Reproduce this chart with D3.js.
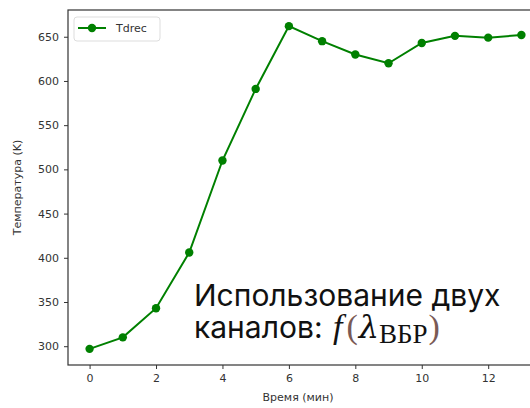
<!DOCTYPE html>
<html>
<head>
<meta charset="utf-8">
<script src="https://cdn.jsdelivr.net/npm/d3@7"></script>
<style>
  body { margin: 0; background: #fff; }
  svg { display: block; }
  .tick text { font-family: "DejaVu Sans", sans-serif; font-size: 11px; fill: #333; }
  .tick line { stroke: #333; }
  .domain { stroke: none; }
</style>
</head>
<body>
<svg id="chart" width="530" height="408"></svg>
<script>
// time (min) and temperature (K)
const times = [0, 1, 2, 3, 4, 5, 6, 7, 8, 9, 10, 11, 12, 13];
const tdrec = [297, 310, 343, 406, 510, 591, 662, 645, 630, 620, 643, 651, 649, 652];
const xTicks = [0, 2, 4, 6, 8, 10, 12];
const yTicks = [300, 350, 400, 450, 500, 550, 600, 650];
const seriesName = "Tdrec";

const svg = d3.select("#chart");
const plot = { left: 68, top: 10, right: 543, bottom: 365 };
const green = "#008000";

// matplotlib style 5% margins around the data
const xPad = (d3.max(times) - d3.min(times)) * 0.05;
const yPad = (d3.max(tdrec) - d3.min(tdrec)) * 0.05;
const x = d3.scaleLinear()
    .domain([d3.min(times) - xPad, d3.max(times) + xPad])
    .range([plot.left, plot.right]);
const y = d3.scaleLinear()
    .domain([d3.min(tdrec) - yPad, d3.max(tdrec) + yPad])
    .range([plot.bottom, plot.top]);

// frame
svg.append("rect")
    .attr("x", plot.left).attr("y", plot.top)
    .attr("width", plot.right - plot.left).attr("height", plot.bottom - plot.top)
    .attr("fill", "none").attr("stroke", "#333").attr("stroke-width", 1.2);

// axes
svg.append("g")
    .attr("transform", `translate(0,${plot.bottom})`)
    .call(d3.axisBottom(x).tickValues(xTicks).tickSize(4).tickPadding(5).tickFormat(d3.format("d")));
svg.append("g")
    .attr("transform", `translate(${plot.left},0)`)
    .call(d3.axisLeft(y).tickValues(yTicks).tickSize(4).tickPadding(5).tickFormat(d3.format("d")));

// axis titles
svg.append("text")
    .attr("x", (plot.left + 530) / 2 - 1).attr("y", 401)
    .attr("text-anchor", "middle")
    .style("font-family", "DejaVu Sans, sans-serif").style("font-size", "11px").style("fill", "#333")
    .text("Время (мин)");
svg.append("text")
    .attr("transform", `translate(21,${(plot.top + plot.bottom) / 2}) rotate(-90)`)
    .attr("text-anchor", "middle")
    .style("font-family", "DejaVu Sans, sans-serif").style("font-size", "11px").style("fill", "#333")
    .text("Температура (K)");

// series
const pts = times.map((t, i) => [t, tdrec[i]]);
svg.append("path")
    .datum(pts)
    .attr("fill", "none").attr("stroke", green).attr("stroke-width", 2)
    .attr("d", d3.line().x(d => x(d[0])).y(d => y(d[1])));
svg.append("g").selectAll("circle")
    .data(pts).join("circle")
    .attr("cx", d => x(d[0])).attr("cy", d => y(d[1]))
    .attr("r", 4.2).attr("fill", green);

// legend
const lg = svg.append("g").attr("transform", "translate(74,17)");
lg.append("rect")
    .attr("width", 86).attr("height", 24).attr("rx", 3)
    .attr("fill", "#fff").attr("stroke", "#ddd");
lg.append("line").attr("x1", 4).attr("x2", 32).attr("y1", 11).attr("y2", 11)
    .attr("stroke", green).attr("stroke-width", 2);
lg.append("circle").attr("cx", 18).attr("cy", 11).attr("r", 4.2).attr("fill", green);
lg.append("text").attr("x", 42).attr("y", 15)
    .style("font-family", "DejaVu Sans, sans-serif").style("font-size", "11px").style("fill", "#333")
    .text(seriesName);

// overlay caption
const cap = svg.append("g").style("font-family", "Inter, sans-serif").style("fill", "#111");
cap.append("text").attr("x", 194).attr("y", 306)
    .style("font-size", "30px")
    .text("Использование двух");
const l2 = cap.append("text").attr("x", 194).attr("y", 338).style("font-size", "30px");
const serif = "Liberation Serif, serif";
l2.append("tspan").text("каналов: ");
l2.append("tspan").style("font-family", serif).style("font-style", "italic").style("font-size", "34px").attr("dx", 2).text("f");
l2.append("tspan").style("font-family", serif).style("fill", "#7a5a55").style("font-size", "34px").attr("dx", 4).text("(");
l2.append("tspan").style("font-family", "DejaVu Serif, serif").style("font-style", "italic").style("font-size", "32px").attr("dx", 1).text("λ");
l2.append("tspan").style("font-family", serif).style("font-size", "27px").attr("dy", 5).text("ВБР");
l2.append("tspan").style("font-family", serif).style("fill", "#7a5a55").style("font-size", "34px").attr("dx", 1).attr("dy", -5).text(")");
</script>
</body>
</html>
